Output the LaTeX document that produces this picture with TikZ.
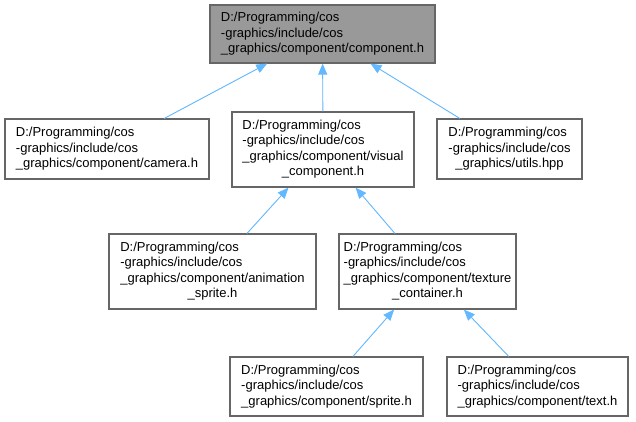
\documentclass[tikz,border=0pt]{standalone}
\usepackage{fontspec}
\setmainfont{Liberation Sans}
\usepackage{tikz}
\usetikzlibrary{positioning,arrows.meta}
\definecolor{incblue}{HTML}{63B8FF}
\definecolor{boxline}{HTML}{666666}
\definecolor{rootfill}{HTML}{999999}
\tikzset{
  includearrow/.style={-{Triangle[length=11pt,width=9pt]}, draw=incblue, fill=incblue, line width=0.9pt},
  filebox/.style={draw=boxline, line width=1.1pt, fill=white, inner sep=0pt, font=\fontsize{13}{15.5}\selectfont},
  rootbox/.style={filebox, fill=rootfill}
}
\newcommand{\fpath}[2]{\begin{tabular}{@{}l@{}}#1\\\multicolumn{1}{@{}c@{}}{#2}\end{tabular}}

\begin{document}
\begin{tikzpicture}[x=1pt, y=-1pt]
  \useasboundingbox (0,0) rectangle (636,421);
  % top: the included header
  \node[rootbox, minimum width=225pt, minimum height=58pt] (component) at (322.5,34) {\fpath{D:/Programming/cos\\-graphics/include/cos}{\_graphics/component/component.h}};
  % second row
  \node[filebox, minimum width=204pt, minimum height=60pt] (camera) at (107,149) {\fpath{D:/Programming/cos\\-graphics/include/cos}{\_graphics/component/camera.h}};
  \node[filebox, minimum width=182pt, minimum height=75pt] (visual) at (323,149.5) {\fpath{D:/Programming/cos\\-graphics/include/cos\\\_graphics/component/visual}{\_component.h}};
  \node[filebox, minimum width=145pt, minimum height=60pt] (utils) at (509.5,149) {\fpath{D:/Programming/cos\\-graphics/include/cos}{\_graphics/utils.hpp}};
  % third row
  \node[filebox, minimum width=207pt, minimum height=75pt] (animation) at (212.5,271.5) {\fpath{D:/Programming/cos\\-graphics/include/cos\\\_graphics/component/animation}{\_sprite.h}};
  \node[filebox, minimum width=177pt, minimum height=75pt] (texture) at (427.5,271.5) {\fpath{D:/Programming/cos\\-graphics/include/cos\\\_graphics/component/texture}{\_container.h}};
  % bottom row
  \node[filebox, minimum width=193pt, minimum height=59pt] (sprite) at (326.5,386.5) {\fpath{D:/Programming/cos\\-graphics/include/cos}{\_graphics/component/sprite.h}};
  \node[filebox, minimum width=181pt, minimum height=59pt] (text) at (537.5,386.5) {\fpath{D:/Programming/cos\\-graphics/include/cos}{\_graphics/component/text.h}};
  % include edges
  \draw[includearrow] (camera) -- (component);
  \draw[includearrow] (visual) -- (component);
  \draw[includearrow] (utils) -- (component);
  \draw[includearrow] (animation) -- (visual);
  \draw[includearrow] (texture) -- (visual);
  \draw[includearrow] (sprite) -- (texture);
  \draw[includearrow] (text) -- (texture);
\end{tikzpicture}
\end{document}
